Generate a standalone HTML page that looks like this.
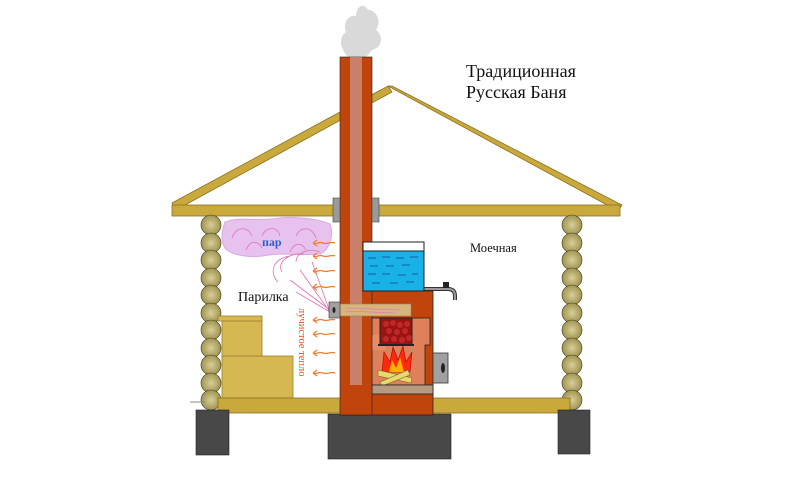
<!DOCTYPE html>
<html><head><meta charset="utf-8"><style>
html,body{margin:0;padding:0;background:#fff;width:800px;height:480px;overflow:hidden}
svg{display:block}
text{font-family:"Liberation Serif",serif}
</style></head><body>
<svg width="800" height="480" viewBox="0 0 800 480" xmlns="http://www.w3.org/2000/svg">
<defs>
<radialGradient id="lg" cx="50%" cy="50%" r="50%"><stop offset="0" stop-color="#d8cf9a"/><stop offset="1" stop-color="#9f9450"/></radialGradient>
</defs>
<!-- smoke -->
<path d="M348,57 C340,48 338,38 346,32 C342,22 350,14 356,16 C356,6 364,2 368,10 C376,10 382,20 376,30 C384,36 382,48 372,50 L366,57 Z" fill="#d9d9d9"/>
<!-- roof rafters -->
<polygon points="172,203 388,86 392,92 176,210" fill="#c9a83c" stroke="#8a7020" stroke-width="0.8"/>
<polygon points="388,86 392,86 622,205 618,211" fill="#c9a83c" stroke="#8a7020" stroke-width="0.8"/>
<!-- ceiling beam -->
<rect x="172" y="205" width="448" height="11" fill="#c9a83c" stroke="#8a7020" stroke-width="0.8"/>
<!-- steam cloud -->
<path d="M225,222 C240,216 260,222 280,218 C300,216 320,220 330,224 C334,234 330,250 320,254 C300,256 280,252 262,256 C245,258 230,254 225,248 C220,240 222,230 225,222Z" fill="#e8c2ee" stroke="#d8a8e0" stroke-width="1"/>
<g fill="none" stroke="#e070b0" stroke-width="0.8">
<path d="M232,238 C236,226 248,226 252,236"/><path d="M262,236 C266,226 278,226 280,236"/><path d="M296,236 C300,226 312,226 316,238"/>
<path d="M246,250 C250,240 258,240 262,248"/><path d="M290,252 C294,242 302,242 306,250"/>
<path d="M278,282 C268,272 274,258 290,256 M282,272 C276,262 290,252 304,254 M296,262 C296,252 310,248 320,252"/>
<path d="M330,310 L290,280 M330,312 L300,270 M330,312 L312,262 M330,312 L296,292"/>
</g>
<text x="262" y="246" font-size="12" font-weight="bold" fill="#2a5fd0">пар</text>
<!-- logs -->
<g stroke="#3a3318" stroke-width="0.6">
<circle cx="211" cy="225" r="10" fill="url(#lg)"/><circle cx="211" cy="243" r="10" fill="url(#lg)"/><circle cx="211" cy="260" r="10" fill="url(#lg)"/><circle cx="211" cy="278" r="10" fill="url(#lg)"/><circle cx="211" cy="295" r="10" fill="url(#lg)"/><circle cx="211" cy="313" r="10" fill="url(#lg)"/><circle cx="211" cy="330" r="10" fill="url(#lg)"/><circle cx="211" cy="348" r="10" fill="url(#lg)"/><circle cx="211" cy="365" r="10" fill="url(#lg)"/><circle cx="211" cy="383" r="10" fill="url(#lg)"/><circle cx="211" cy="400" r="10" fill="url(#lg)"/>
<circle cx="572" cy="225" r="10" fill="url(#lg)"/><circle cx="572" cy="243" r="10" fill="url(#lg)"/><circle cx="572" cy="260" r="10" fill="url(#lg)"/><circle cx="572" cy="278" r="10" fill="url(#lg)"/><circle cx="572" cy="295" r="10" fill="url(#lg)"/><circle cx="572" cy="313" r="10" fill="url(#lg)"/><circle cx="572" cy="330" r="10" fill="url(#lg)"/><circle cx="572" cy="348" r="10" fill="url(#lg)"/><circle cx="572" cy="365" r="10" fill="url(#lg)"/><circle cx="572" cy="383" r="10" fill="url(#lg)"/><circle cx="572" cy="400" r="10" fill="url(#lg)"/>
</g>
<!-- benches -->
<rect x="222" y="356" width="71" height="42" fill="#d6b752" stroke="#9a8030" stroke-width="0.8"/>
<rect x="222" y="320" width="40" height="36" fill="#d6b752" stroke="#9a8030" stroke-width="0.8"/>
<rect x="218" y="316" width="44" height="5" fill="#d6b752" stroke="#9a8030" stroke-width="0.8"/>
<line x1="190" y1="402" x2="205" y2="402" stroke="#888"/>
<!-- floor -->
<rect x="218" y="398" width="352" height="15" fill="#c9a83c" stroke="#8a7020" stroke-width="0.8"/>
<!-- foundations -->
<rect x="196" y="410" width="33" height="45" fill="#484848" stroke="#222" stroke-width="0.6"/>
<rect x="558" y="410" width="32" height="44" fill="#484848" stroke="#222" stroke-width="0.6"/>
<rect x="328" y="414" width="123" height="45" fill="#484848" stroke="#222" stroke-width="0.6"/>
<!-- tap -->
<path d="M424,289 H448 Q455,289 455,296 V300" fill="none" stroke="#333" stroke-width="4"/>
<path d="M424,289 H448 Q455,289 455,296 V300" fill="none" stroke="#999" stroke-width="2"/>
<rect x="443" y="282" width="6" height="6" fill="#222"/>
<!-- stove body -->
<rect x="341" y="291" width="92" height="124" fill="#c0440c" stroke="#222" stroke-width="0.8"/>
<!-- firebox area -->
<path d="M372,318 H430 V345 H425 V385 H372 Z" fill="#e0805a" stroke="#222" stroke-width="0.8"/>
<rect x="372" y="335" width="14" height="15" fill="#e88a66"/>
<rect x="380" y="318" width="32" height="27" fill="#9a1414" stroke="#222" stroke-width="1"/>
<g fill="#c02828"><circle cx="386" cy="324" r="3"/><circle cx="393" cy="323" r="3"/><circle cx="400" cy="325" r="3"/><circle cx="407" cy="324" r="3"/><circle cx="389" cy="331" r="3"/><circle cx="397" cy="332" r="3"/><circle cx="405" cy="331" r="3"/><circle cx="386" cy="339" r="3"/><circle cx="394" cy="339" r="3"/><circle cx="402" cy="340" r="3"/><circle cx="409" cy="338" r="3"/></g>
<line x1="378" y1="345" x2="414" y2="345" stroke="#222" stroke-width="2"/>
<!-- fire -->
<path d="M382,372 L384,352 L390,362 L393,347 L398,360 L403,346 L406,362 L412,352 L410,372 Z" fill="#ff2a0a" stroke="#a00" stroke-width="0.6"/>
<path d="M389,372 L392,360 L396,368 L400,357 L404,372Z" fill="#ffb000"/>
<polygon points="378,370 412,378 411,383 378,376" fill="#e8d870" stroke="#7a6a20" stroke-width="0.6"/>
<polygon points="380,382 408,370 410,375 382,386" fill="#e8d870" stroke="#7a6a20" stroke-width="0.6"/>
<rect x="372" y="385" width="61" height="9" fill="#b59a7f" stroke="#222" stroke-width="0.8"/>
<!-- door -->
<rect x="433" y="353" width="15" height="30" fill="#a0a0a0" stroke="#333" stroke-width="0.8"/>
<ellipse cx="443" cy="368" rx="2" ry="5" fill="#222"/>
<!-- chimney -->
<rect x="340" y="57" width="32" height="358" fill="#c0440c" stroke="#222" stroke-width="0.6"/>
<rect x="350" y="57" width="12" height="328" fill="#c8806a"/>
<!-- water tank (over chimney edge) -->
<rect x="363" y="242" width="61" height="49" fill="#1ab0e8" stroke="#222" stroke-width="1"/>
<rect x="363" y="242" width="61" height="9" fill="#fff" stroke="#222" stroke-width="1"/>
<g stroke="#1060a0" stroke-width="1">
<path d="M368,258h8M382,257h8M396,258h8M410,257h8M370,266h8M386,266h8M402,265h8M368,274h8M382,274h8M398,275h8M412,274h6M372,283h8M390,283h8M406,282h8"/>
</g>
<!-- brackets -->
<rect x="333" y="198" width="7" height="24" fill="#9a9a9a" stroke="#444" stroke-width="0.6"/>
<rect x="372" y="198" width="7" height="24" fill="#9a9a9a" stroke="#444" stroke-width="0.6"/>
<!-- steam pipe -->
<rect x="340" y="304" width="71" height="12" fill="#d8b57e" stroke="#a08050" stroke-width="0.6"/>
<path d="M345,308 L400,310 M345,311 L395,313" stroke="#e070b0" stroke-width="0.6"/>
<rect x="329" y="302" width="11" height="16" fill="#a0a0a0" stroke="#333" stroke-width="0.6"/>
<ellipse cx="334" cy="310" rx="1.5" ry="3" fill="#222"/>
<!-- heat arrows -->
<g fill="none" stroke="#f08030" stroke-width="1.3">
<path d="M335,243 c-4,-2 -8,2 -12,0 c-4,-2 -6,2 -10,0 M313,243 l4,-3 M313,243 l4,3"/>
<path d="M335,256 c-4,-2 -8,2 -12,0 c-4,-2 -6,2 -10,0 M313,256 l4,-3 M313,256 l4,3"/>
<path d="M335,271 c-4,-2 -8,2 -12,0 c-4,-2 -6,2 -10,0 M313,271 l4,-3 M313,271 l4,3"/>
<path d="M335,287 c-4,-2 -8,2 -12,0 c-4,-2 -6,2 -10,0 M313,287 l4,-3 M313,287 l4,3"/>
<path d="M335,320 c-4,-2 -8,2 -12,0 c-4,-2 -6,2 -10,0 M313,320 l4,-3 M313,320 l4,3"/>
<path d="M335,334 c-4,-2 -8,2 -12,0 c-4,-2 -6,2 -10,0 M313,334 l4,-3 M313,334 l4,3"/>
<path d="M335,353 c-4,-2 -8,2 -12,0 c-4,-2 -6,2 -10,0 M313,353 l4,-3 M313,353 l4,3"/>
<path d="M335,373 c-4,-2 -8,2 -12,0 c-4,-2 -6,2 -10,0 M313,373 l4,-3 M313,373 l4,3"/>
</g>
<text transform="translate(299,308) rotate(90)" font-size="10.5" fill="#e05020">лучистое тепло</text>
<!-- labels -->
<text x="238" y="301" font-size="14" fill="#111">Парилка</text>
<text x="470" y="252" font-size="12.5" fill="#111">Моечная</text>
<text x="466" y="77" font-size="18" fill="#111">Традиционная</text>
<text x="466" y="98" font-size="18" fill="#111">Русская Баня</text>
</svg>
</body></html>
